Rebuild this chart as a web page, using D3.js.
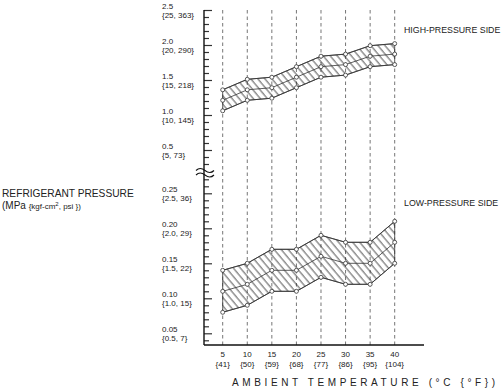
<!DOCTYPE html>
<html><head><meta charset="utf-8">
<script src="https://cdn.jsdelivr.net/npm/d3@7"></script>
<style>
html,body{margin:0;padding:0;background:#fff;}
svg{display:block;font-family:"Liberation Sans",Arial,sans-serif;}
</style></head>
<body>
<svg id="c" width="503" height="389"></svg>
<script>
// ---- data ----
const temps = [5, 10, 15, 20, 25, 30, 35, 40];
const tempF = [41, 50, 59, 68, 77, 86, 95, 104];
const highTop = [1.36, 1.51, 1.54, 1.69, 1.84, 1.87, 1.99, 2.02];
const highMid = [1.21, 1.36, 1.39, 1.54, 1.69, 1.72, 1.84, 1.87];
const highBot = [1.06, 1.21, 1.24, 1.39, 1.54, 1.57, 1.69, 1.72];
const lowTop = [0.14, 0.15, 0.17, 0.17, 0.19, 0.18, 0.18, 0.21];
const lowMid = [0.11, 0.12, 0.14, 0.14, 0.16, 0.15, 0.15, 0.18];
const lowBot = [0.08, 0.09, 0.11, 0.11, 0.13, 0.12, 0.12, 0.15];
const highMajor = [0.5, 1.0, 1.5, 2.0, 2.5];
const highMajorLabels = ["{5, 73}", "{10, 145}", "{15, 218}", "{20, 290}", "{25, 363}"];
const highMinor = [0.3, 0.4, 0.6, 0.7, 0.8, 0.9, 1.1, 1.2, 1.3, 1.4, 1.6, 1.7, 1.8, 1.9, 2.1, 2.2, 2.3, 2.4];
const lowMajor = [0.05, 0.10, 0.15, 0.20, 0.25];
const lowMajorLabels = ["{0.5, 7}", "{1.0, 15}", "{1.5, 22}", "{2.0, 29}", "{2.5, 36}"];
const lowMinor = [0.04, 0.06, 0.07, 0.08, 0.09, 0.11, 0.12, 0.13, 0.14, 0.16, 0.17, 0.18, 0.19, 0.21, 0.22, 0.23, 0.24, 0.26, 0.27];

// ---- layout ----
const svg = d3.select("#c");
const axisX = 204, axisTop = 10, axisBottom = 345, axisRight = 424;
const x = d3.scaleLinear().domain([5, 40]).range([222.7, 394.7]);
const yHi = d3.scaleLinear().domain([0.5, 2.5]).range([150, 10]);
const yLo = d3.scaleLinear().domain([0.05, 0.25]).range([333.3, 193.3]);

// hatch pattern
const defs = svg.append("defs");
defs.append("pattern").attr("id", "hatch").attr("patternUnits", "userSpaceOnUse")
  .attr("width", 5.4).attr("height", 10).attr("patternTransform", "rotate(-40)")
  .append("line").attr("x1", 1).attr("x2", 1).attr("y1", 0).attr("y2", 10)
  .attr("stroke", "#111").attr("stroke-width", 0.75);

// dashed gridlines
svg.append("g").selectAll("line").data(temps).join("line")
  .attr("x1", d => x(d)).attr("x2", d => x(d))
  .attr("y1", axisTop).attr("y2", axisBottom)
  .attr("stroke", "#666").attr("stroke-width", 0.9).attr("stroke-dasharray", "3.5,3");

// bands
function band(top, mid, bot, y) {
  const g = svg.append("g");
  const pts = temps.map((t, i) => [x(t), y(top[i])])
    .concat(temps.map((t, i) => [x(t), y(bot[i])]).reverse());
  g.append("path").attr("d", "M" + pts.join("L") + "Z")
    .attr("fill", "url(#hatch)").attr("stroke", "#333").attr("stroke-width", 0.8);
  const line = d3.line().x((d, i) => x(temps[i])).y(d => y(d));
  [top, mid, bot].forEach(arr => {
    g.append("path").attr("d", line(arr)).attr("fill", "none")
      .attr("stroke", "#333").attr("stroke-width", 0.8);
    g.selectAll(null).data(arr).join("circle")
      .attr("cx", (d, i) => x(temps[i])).attr("cy", d => y(d)).attr("r", 2)
      .attr("fill", "#fff").attr("stroke", "#333").attr("stroke-width", 0.8);
  });
}
band(highTop, highMid, highBot, yHi);
band(lowTop, lowMid, lowBot, yLo);

// axes
const ax = svg.append("g").attr("transform", `translate(${axisX},0)`);
function ticks(scale, vals, size) {
  const a = d3.axisRight(scale).tickValues(vals).tickSize(size).tickFormat("");
  const g = ax.append("g").call(a);
  g.select(".domain").remove();
  g.selectAll("line").attr("stroke", "#333").attr("stroke-width", 1.2);
}
ticks(yHi, highMajor, 8);
ticks(yHi, highMinor, 5);
ticks(yLo, lowMajor, 8);
ticks(yLo, lowMinor, 5);
svg.append("line").attr("x1", axisX).attr("x2", axisX).attr("y1", axisTop).attr("y2", axisBottom)
  .attr("stroke", "#111").attr("stroke-width", 1.4);
svg.append("line").attr("x1", axisX).attr("x2", axisRight).attr("y1", axisBottom).attr("y2", axisBottom)
  .attr("stroke", "#111").attr("stroke-width", 1.4);

// break mark
[169.5, 174].forEach(yy => {
  svg.append("path").attr("d", `M196,${yy + 1} q4,-4 9,0 t9,0`)
    .attr("fill", "none").attr("stroke", "#111").attr("stroke-width", 1.1);
});

// y labels
function yLabels(scale, vals, labels) {
  const g = svg.append("g").attr("font-size", 8).attr("fill", "#222");
  vals.forEach((v, i) => {
    const yy = scale(v);
    g.append("text").attr("x", 162).attr("y", yy - 1.5).text(v.toFixed(v < 0.5 ? 2 : 1));
    g.append("text").attr("x", 162).attr("y", yy + 7.5).text(labels[i]);
  });
}
yLabels(yHi, highMajor, highMajorLabels);
yLabels(yLo, lowMajor, lowMajorLabels);

// x labels
const xl = svg.append("g").attr("font-size", 8).attr("fill", "#222").attr("text-anchor", "middle");
temps.forEach((t, i) => {
  xl.append("text").attr("x", x(t)).attr("y", 357).text(t);
  xl.append("text").attr("x", x(t)).attr("y", 366.5).text("{" + tempF[i] + "}");
});

// titles
svg.append("text").attr("x", 232).attr("y", 386).attr("font-size", 10).attr("fill", "#222")
  .attr("textLength", 263).attr("lengthAdjust", "spacing")
  .text("AMBIENT TEMPERATURE  (°C {°F})");
svg.append("text").attr("x", 2).attr("y", 197).attr("font-size", 10.2).attr("fill", "#222")
  .text("REFRIGERANT PRESSURE");
const t2 = svg.append("text").attr("x", 2).attr("y", 208.5).attr("fill", "#222");
t2.append("tspan").attr("font-size", 10).text("(MPa ");
t2.append("tspan").attr("font-size", 8).text("{kgf-cm");
t2.append("tspan").attr("font-size", 6).attr("dy", -3).text("2");
t2.append("tspan").attr("font-size", 8).attr("dy", 3).text(", psi })");

svg.append("text").attr("x", 404).attr("y", 33).attr("font-size", 8.8).attr("fill", "#222")
  .text("HIGH-PRESSURE SIDE");
svg.append("text").attr("x", 404).attr("y", 206).attr("font-size", 8.8).attr("fill", "#222")
  .text("LOW-PRESSURE SIDE");
</script>
</body></html>
